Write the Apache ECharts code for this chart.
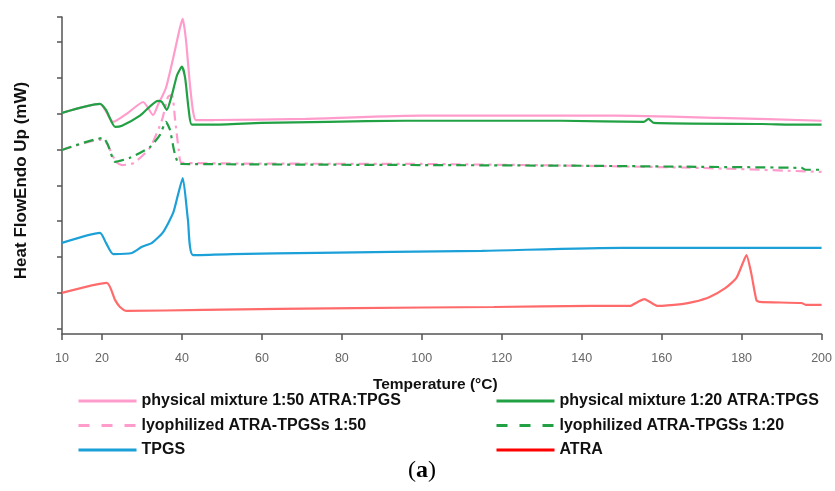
<!DOCTYPE html>
<html>
<head>
<meta charset="utf-8">
<script src="https://cdn.jsdelivr.net/npm/echarts@6/dist/echarts.min.js"></script>
<style>
html, body { margin: 0; padding: 0; background: #fff; }
#main { width: 835px; height: 491px; }
</style>
</head>
<body>
<div id="main"></div>
<script>
// DSC thermograms (curves offset vertically, arbitrary mW units)
var xTicks = [10, 20, 40, 60, 80, 100, 120, 140, 160, 180, 200];
var yTicks = [0.14, 1.14, 2.14, 3.14, 4.12, 5.12, 6.12, 7.1, 8.11, 8.8];

// physical mixture 1:50
var pm150T = [10, 19.5, 22.8, 26.5, 30.3, 32.8, 34, 36, 38, 39.5, 40.2, 41, 42, 42.8, 43.5, 48, 71, 100, 148, 174, 200];
var pm150Y = [6.14, 6.39, 5.89, 6.14, 6.44, 6.08, 6.36, 6.83, 7.75, 8.5, 8.75, 8.17, 6.92, 6.17, 5.94, 5.94, 5.97, 6.06, 6.06, 6.0, 5.92];

// physical mixture 1:20
var pm120T = [10, 19.5, 21, 23.3, 25, 29.5, 34, 35, 36.2, 37.5, 38.8, 40, 40.8, 41.7, 42.5, 47.5, 60, 76.5, 95.8, 135, 155.5, 156.7, 158, 185, 195, 200];
var pm120Y = [6.14, 6.39, 6.22, 5.75, 5.78, 6.06, 6.47, 6.44, 6.22, 6.64, 7.19, 7.42, 7.11, 6.22, 5.81, 5.81, 5.86, 5.89, 5.92, 5.92, 5.89, 5.97, 5.86, 5.83, 5.81, 5.81];

// lyophilized 1:50
var ly150T = [10, 19.5, 21, 23.5, 25, 28, 32, 35, 36.5, 37.5, 38.3, 39.2, 40, 100, 140, 170, 200];
var ly150Y = [5.11, 5.39, 5.33, 4.78, 4.69, 4.75, 5.17, 5.94, 6.58, 6.64, 5.94, 5.11, 4.75, 4.72, 4.67, 4.61, 4.5];

// lyophilized 1:20
var ly120T = [10, 20.3, 21.5, 23.3, 27, 32, 34.5, 36, 37, 38, 39, 40, 100, 140, 170, 195, 196, 200];
var ly120Y = [5.11, 5.44, 5.25, 4.78, 4.89, 5.19, 5.53, 5.89, 5.67, 5.11, 4.75, 4.72, 4.69, 4.67, 4.64, 4.61, 4.56, 4.56];

// TPGS
var tpgsT = [10, 19.5, 21, 22.8, 27.5, 30, 32.5, 35.3, 37.8, 39, 40.2, 41.5, 42.8, 52.7, 74, 92.7, 115, 150, 200];
var tpgsY = [2.53, 2.81, 2.53, 2.22, 2.25, 2.42, 2.53, 2.83, 3.36, 3.86, 4.33, 3.17, 2.19, 2.22, 2.25, 2.28, 2.31, 2.39, 2.39];

// ATRA
var atraT = [10, 21.2, 23.3, 24.5, 26.2, 45.3, 83.2, 118, 142.5, 152, 154, 155.7, 157.5, 159, 165, 168, 172, 176, 178.7, 180.3, 181.2, 182.4, 183.7, 184.5, 195, 196, 200];
var atraY = [1.14, 1.42, 0.94, 0.75, 0.64, 0.67, 0.72, 0.75, 0.78, 0.78, 0.89, 0.97, 0.86, 0.78, 0.83, 0.89, 1.03, 1.28, 1.56, 1.97, 2.19, 1.69, 0.94, 0.89, 0.86, 0.81, 0.81];

var names = [
    'physical mixture 1:50 ATRA:TPGS',
    'physical mixture 1:20 ATRA:TPGS',
    'lyophilized ATRA-TPGSs 1:50',
    'lyophilized ATRA-TPGSs 1:20',
    'TPGS',
    'ATRA'
];

function pairs(t, y) {
    return t.map(function (v, i) { return [v, y[i]]; });
}

function line(name, t, y, color, dash) {
    return {
        name: name,
        type: 'line',
        symbol: 'none',
        smooth: 0.2,
        data: pairs(t, y),
        lineStyle: { color: color, width: 2.2, type: dash || 'solid' },
        itemStyle: { color: color }
    };
}

var legendText = { fontFamily: 'Liberation Sans', fontSize: 16, fontWeight: 'bold', color: '#111' };

function legendBox(left, items) {
    return {
        left: left, top: 393, orient: 'vertical', padding: 0,
        itemWidth: 58, itemHeight: 14, itemGap: 8.5,
        itemStyle: { opacity: 0 },
        textStyle: legendText,
        data: items
    };
}

var myChart = echarts.init(document.getElementById('main'));
myChart.setOption({
    animation: false,
    grid: { left: 62, right: 13, top: 17, bottom: 157 },
    xAxis: {
        type: 'value',
        min: 10,
        max: 200,
        name: 'Temperature (°C)',
        nameLocation: 'middle',
        nameGap: 43,
        nameTextStyle: { fontFamily: 'Liberation Sans', fontSize: 15.5, fontWeight: 'bold', color: '#111', padding: [0, 13, 0, 0] },
        axisLine: { lineStyle: { color: '#555', width: 1.5 } },
        axisTick: { customValues: xTicks, length: 6, lineStyle: { color: '#555', width: 1.5 } },
        axisLabel: { customValues: xTicks, margin: 18, fontFamily: 'Liberation Sans', fontSize: 12.5, color: '#666' },
        splitLine: { show: false }
    },
    yAxis: {
        type: 'value',
        min: 0,
        max: 8.8,
        name: 'Heat FlowEndo Up (mW)',
        nameLocation: 'middle',
        nameGap: 32,
        nameTextStyle: { fontFamily: 'Liberation Sans', fontSize: 17, fontWeight: 'bold', color: '#111', padding: [0, 10, 0, 0] },
        axisLine: { show: true, lineStyle: { color: '#555', width: 1.5 } },
        axisTick: { show: true, customValues: yTicks, length: 5, lineStyle: { color: '#555', width: 1.5 } },
        axisLabel: { show: false },
        splitLine: { show: false }
    },
    legend: [
        legendBox(77, [
            { name: names[0], lineStyle: { width: 3 } },
            { name: names[2], lineStyle: { width: 3, type: [11, 12] } },
            { name: names[4], lineStyle: { width: 3 } }
        ]),
        legendBox(495, [
            { name: names[1], lineStyle: { width: 3 } },
            { name: names[3], lineStyle: { width: 3, type: [11, 12] } },
            { name: names[5], lineStyle: { width: 3, color: '#ff0000' } }
        ])
    ],
    graphic: [{
        type: 'text',
        left: 408,
        top: 459,
        style: {
            text: '({a|a})',
            font: '24px "Liberation Serif"',
            fill: '#000',
            rich: { a: { fontFamily: 'Liberation Serif', fontSize: 24, fontWeight: 'bold' } }
        }
    }],
    series: [
        line(names[0], pm150T, pm150Y, '#ff9ccc'),
        line(names[2], ly150T, ly150Y, '#ff9ccc', [10, 5, 3, 5]),
        line(names[1], pm120T, pm120Y, '#22a044'),
        line(names[3], ly120T, ly120Y, '#22a044', [10, 5, 3, 5]),
        line(names[4], tpgsT, tpgsY, '#1ca0d8'),
        line(names[5], atraT, atraY, '#ff6b6b')
    ]
});
</script>
</body>
</html>
